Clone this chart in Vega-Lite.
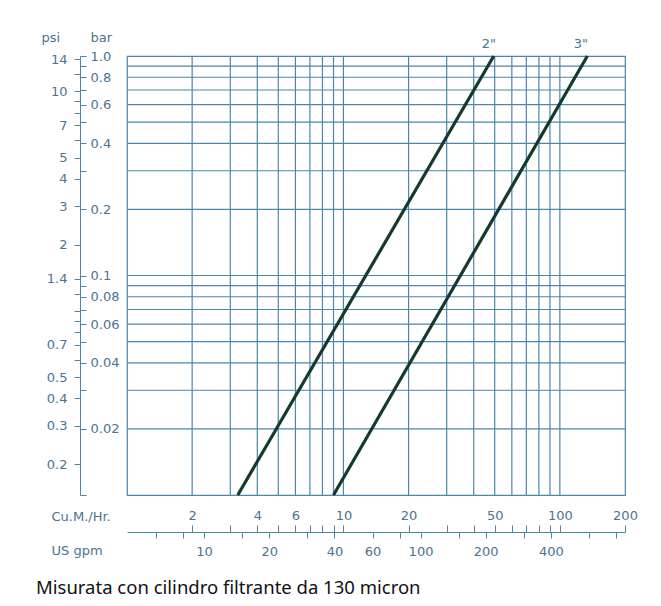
{
  "$schema": "https://vega.github.io/schema/vega-lite/v6.json",
  "width": 498,
  "height": 439,
  "autosize": "none",
  "padding": {"left": 127, "top": 56, "right": 36, "bottom": 111},
  "background": "#ffffff",
  "config": {
    "view": {"stroke": "#4d86a9", "strokeWidth": 1.2},
    "axis": {
      "labelFont": "DejaVu Sans",
      "labelFontSize": 13,
      "labelColor": "#4a7490",
      "titleFont": "DejaVu Sans",
      "titleFontSize": 13,
      "titleFontWeight": "normal",
      "titleColor": "#4a7490",
      "tickColor": "#4d86a9",
      "domainColor": "#4d86a9",
      "grid": false,
      "labelOverlap": false,
      "labelFlush": false
    }
  },
  "title": {
    "text": "Misurata con cilindro filtrante da 130 micron",
    "orient": "bottom",
    "anchor": "start",
    "frame": "group",
    "dx": -91,
    "offset": 21,
    "font": "Noto Sans",
    "fontSize": 18.5,
    "fontWeight": "normal",
    "color": "#111111"
  },
  "datasets": {
    "curves": [
      {"q": 3.25, "bar": 0.01, "size": "2\""},
      {"q": 49.5, "bar": 1.0, "size": "2\""},
      {"q": 9.0, "bar": 0.01, "size": "3\""},
      {"q": 134, "bar": 1.0, "size": "3\""}
    ],
    "curveLabels": [
      {"q": 47, "bar": 1.0, "label": "2\""},
      {"q": 125, "bar": 1.0, "label": "3\""}
    ],
    "gridX": [
      {"q": 2}, {"q": 3}, {"q": 4}, {"q": 5}, {"q": 6}, {"q": 7}, {"q": 8}, {"q": 9}, {"q": 10},
      {"q": 20}, {"q": 30}, {"q": 40}, {"q": 50}, {"q": 60}, {"q": 70}, {"q": 80}, {"q": 90}, {"q": 100}
    ],
    "gridY": [
      {"bar": 0.02}, {"bar": 0.03}, {"bar": 0.04}, {"bar": 0.05}, {"bar": 0.06}, {"bar": 0.07}, {"bar": 0.08}, {"bar": 0.09},
      {"bar": 0.1}, {"bar": 0.2}, {"bar": 0.3}, {"bar": 0.4}, {"bar": 0.5}, {"bar": 0.6}, {"bar": 0.7}, {"bar": 0.8}, {"bar": 0.9}
    ]
  },
  "resolve": {"scale": {"x": "independent", "y": "independent"}, "axis": {"x": "independent", "y": "independent"}},
  "layer": [
    {
      "layer": [
        {
          "data": {"name": "gridX"},
          "mark": {"type": "rule", "color": "#4d86a9", "strokeWidth": 1.2},
          "encoding": {
            "x": {
              "field": "q", "type": "quantitative",
              "scale": {"type": "log", "domain": [1, 200], "nice": false},
              "axis": {
                "orient": "bottom",
                "offset": 37,
                "values": [2, 3, 4, 5, 6, 7, 8, 9, 10, 20, 30, 40, 50, 60, 70, 80, 90, 100, 200],
                "labelExpr": "indexof([2,4,6,10,20,50,100,200], datum.value) >= 0 ? toString(datum.value) : ''",
                "tickSize": -7,
                "labelPadding": -3,
                "labelBaseline": "bottom",
                "domain": true,
                "title": "Cu.M./Hr.",
                "titleX": -76,
                "titleY": -16,
                "titleAlign": "left",
                "titleBaseline": "middle",
                "titleAngle": 0
              }
            }
          }
        },
        {
          "data": {"name": "gridY"},
          "mark": {"type": "rule", "color": "#4d86a9", "strokeWidth": 1.2},
          "encoding": {
            "y": {
              "field": "bar", "type": "quantitative",
              "scale": {"type": "log", "domain": [0.01, 1], "nice": false},
              "axis": {
                "orient": "left",
                "offset": 47,
                "values": [0.01, 0.02, 0.03, 0.04, 0.05, 0.06, 0.07, 0.08, 0.09, 0.1, 0.2, 0.3, 0.4, 0.5, 0.6, 0.7, 0.8, 0.9, 1],
                "labelExpr": "datum.value == 1 ? '1.0' : (indexof([0.02,0.04,0.06,0.08,0.1,0.2,0.4,0.6,0.8], datum.value) >= 0 ? toString(datum.value) : '')",
                "tickSize": -6,
                "labelPadding": -4,
                "labelAlign": "left",
                "labelBaseline": "middle",
                "domain": true,
                "title": "bar",
                "titleX": 10,
                "titleY": -19,
                "titleAlign": "left",
                "titleBaseline": "middle",
                "titleAngle": 0
              }
            }
          }
        },
        {
          "data": {"name": "curves"},
          "mark": {"type": "line", "color": "#143a2d", "strokeWidth": 3.2},
          "encoding": {
            "x": {"field": "q", "type": "quantitative"},
            "y": {"field": "bar", "type": "quantitative"},
            "detail": {"field": "size"}
          }
        }
      ]
    },
    {
      "data": {"name": "curveLabels"},
      "mark": {"type": "text", "font": "DejaVu Sans", "fontSize": 13, "color": "#4a7490", "dy": -12, "baseline": "middle"},
      "encoding": {
        "x": {
          "field": "q", "type": "quantitative",
          "scale": {"type": "log", "domain": [1, 200], "nice": false},
          "axis": {
            "orient": "bottom",
            "offset": 37,
            "values": [1.3627, 1.8169, 2.2712, 3.4068, 4.5424, 6.8135, 9.0847, 13.627, 18.169, 22.712, 34.068, 45.424, 68.135, 90.847, 136.27, 181.69],
            "labelExpr": "indexof([10,20,40,60,100,200,400], round(datum.value*4.4029)) >= 0 ? toString(round(datum.value*4.4029)) : ''",
            "tickSize": 6,
            "labelPadding": 7,
            "labelBaseline": "top",
            "domain": false,
            "title": "US gpm",
            "titleX": -76,
            "titleY": 18,
            "titleAlign": "left",
            "titleBaseline": "middle",
            "titleAngle": 0
          }
        },
        "y": {
          "field": "bar", "type": "quantitative",
          "scale": {"type": "log", "domain": [0.01, 1], "nice": false},
          "axis": {
            "orient": "left",
            "offset": 47,
            "values": [0.9655, 0.8276, 0.6897, 0.6207, 0.5517, 0.4828, 0.4138, 0.3448, 0.2759, 0.2069, 0.1379, 0.09655, 0.08276, 0.06897, 0.06207, 0.05517, 0.04828, 0.04138, 0.03448, 0.02759, 0.02069, 0.01379],
            "labelExpr": "indexof([14,10,7,5,4,3,2,1.4,0.7,0.5,0.4,0.3,0.2], round(datum.value*145)/10) >= 0 ? toString(round(datum.value*145)/10) : ''",
            "tickSize": 6,
            "labelPadding": 7,
            "labelAlign": "right",
            "labelBaseline": "middle",
            "domain": false,
            "title": "psi",
            "titleX": -39,
            "titleY": -19,
            "titleAlign": "left",
            "titleBaseline": "middle",
            "titleAngle": 0
          }
        },
        "text": {"field": "label"}
      }
    }
  ]
}
